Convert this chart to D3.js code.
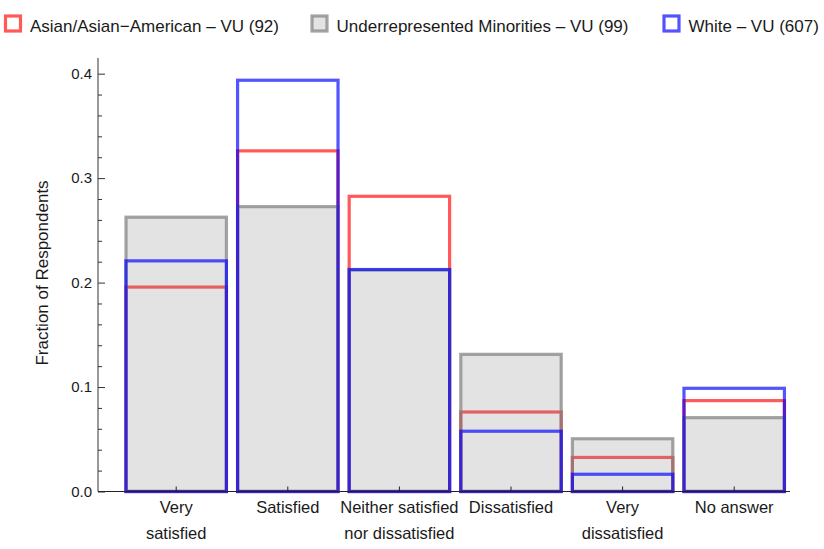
<!DOCTYPE html>
<html>
<head>
<meta charset="utf-8">
<script src="https://cdn.jsdelivr.net/npm/d3@7"></script>
<style>
  html, body { margin: 0; padding: 0; background: #fff; }
  svg { display: block; font-family: "Liberation Sans", Arial, sans-serif; }
</style>
</head>
<body>
<svg id="chart" width="824" height="549"></svg>
<script>
// ---- data ----
const categories = ["Very satisfied", "Satisfied", "Neither satisfied nor dissatisfied", "Dissatisfied", "Very dissatisfied", "No answer"];
const categoryLabels = [["Very", "satisfied"], ["Satisfied"], ["Neither satisfied", "nor dissatisfied"], ["Dissatisfied"], ["Very", "dissatisfied"], ["No answer"]];
const seriesNames = ["Asian/Asian\u2212American \u2013 VU (92)", "Underrepresented Minorities \u2013 VU (99)", "White \u2013 VU (607)"];
const asianValues = [0.1957, 0.3261, 0.2826, 0.0761, 0.0326, 0.0870];
const urmValues   = [0.2626, 0.2727, 0.2121, 0.1313, 0.0505, 0.0707];
const whiteValues = [0.2208, 0.3937, 0.2125, 0.0577, 0.0165, 0.0988];
const yMajorTicks = [0, 0.1, 0.2, 0.3, 0.4];
const yMinorTicks = [0.02, 0.04, 0.06, 0.08, 0.12, 0.14, 0.16, 0.18, 0.22, 0.24, 0.26, 0.28, 0.32, 0.34, 0.36, 0.38];

// ---- layout ----
const svg = d3.select("#chart");
const axisLeftX = 98, axisRightX = 790;
const y = d3.scaleLinear().domain([0, 0.415]).range([491.5, 58]);
const x = d3.scaleBand().domain(categories).range([120.4, 790]).paddingInner(0.1).paddingOuter(0.05);

const styles = [
  { stroke: "rgba(255,0,0,0.65)", fill: "none", legendFill: "#fff" },
  { stroke: "rgba(125,125,125,0.7)", fill: "rgba(128,128,128,0.22)", legendFill: "#e3e3e3" },
  { stroke: "rgba(0,0,255,0.67)", fill: "none", legendFill: "#fff" }
];
const seriesData = [asianValues, urmValues, whiteValues];

// bars: red, then gray (semi-transparent fill), then blue
seriesData.forEach((vals, si) => {
  const st = styles[si];
  svg.append("g").selectAll("rect")
    .data(vals)
    .join("rect")
    .attr("x", (d, i) => x(categories[i]))
    .attr("y", d => y(d))
    .attr("width", x.bandwidth())
    .attr("height", d => y(0) - y(d))
    .attr("fill", st.fill)
    .attr("stroke", st.stroke)
    .attr("stroke-width", 3.2);
});

// y axis
const yAxisG = svg.append("g").attr("transform", `translate(${axisLeftX},0)`);
yAxisG.call(d3.axisLeft(y).tickValues(yMajorTicks).tickFormat(d3.format(".1f")).tickSize(-7).tickSizeOuter(0).tickPadding(6));
const yMinorG = svg.append("g").attr("transform", `translate(${axisLeftX},0)`);
yMinorG.call(d3.axisLeft(y).tickValues(yMinorTicks).tickFormat("").tickSize(-4).tickSizeOuter(0));
yMinorG.select(".domain").remove();
yAxisG.select(".domain").attr("d", `M0,${y(0)}V58`);
svg.selectAll(".tick line").attr("stroke", "#333");
svg.selectAll(".domain").attr("stroke", "#333");
yAxisG.selectAll("text").attr("font-size", 15).attr("fill", "#1a1a1a").attr("font-family", "Liberation Sans, Arial, sans-serif");

// x axis
const xAxisG = svg.append("g");
xAxisG.append("line")
  .attr("x1", axisLeftX).attr("x2", axisRightX)
  .attr("y1", y(0)).attr("y2", y(0))
  .attr("stroke", "#222").attr("stroke-width", 1.2);
xAxisG.selectAll("line.xt")
  .data(categories)
  .join("line")
  .attr("class", "xt")
  .attr("x1", d => x(d) + x.bandwidth() / 2)
  .attr("x2", d => x(d) + x.bandwidth() / 2)
  .attr("y1", y(0)).attr("y2", y(0) - 5)
  .attr("stroke", "#222");
const lbl = xAxisG.selectAll("text.xl")
  .data(categories)
  .join("text")
  .attr("class", "xl")
  .attr("text-anchor", "middle")
  .attr("font-size", 16.5)
  .attr("fill", "#1a1a1a");
lbl.each(function(d, i) {
  const t = d3.select(this);
  categoryLabels[i].forEach((line, li) => {
    t.append("tspan")
      .attr("x", x(d) + x.bandwidth() / 2)
      .attr("y", 513 + li * 26)
      .text(line);
  });
});

// y label
svg.append("text")
  .attr("transform", "translate(48,273) rotate(-90)")
  .attr("text-anchor", "middle")
  .attr("font-size", 17)
  .attr("fill", "#1a1a1a")
  .text("Fraction of Respondents");

// legend
const legendX = [5.5, 312, 664];
const lg = svg.append("g").selectAll("g")
  .data(seriesNames)
  .join("g")
  .attr("transform", (d, i) => `translate(${legendX[i]},16)`);
lg.append("rect")
  .attr("width", 15).attr("height", 15)
  .attr("fill", (d, i) => styles[i].legendFill)
  .attr("stroke", (d, i) => styles[i].stroke)
  .attr("stroke-width", 3.2);
lg.append("text")
  .attr("x", 24.5).attr("y", 15.5)
  .attr("font-size", 17)
  .attr("fill", "#1a1a1a")
  .text(d => d);
</script>
</body>
</html>
